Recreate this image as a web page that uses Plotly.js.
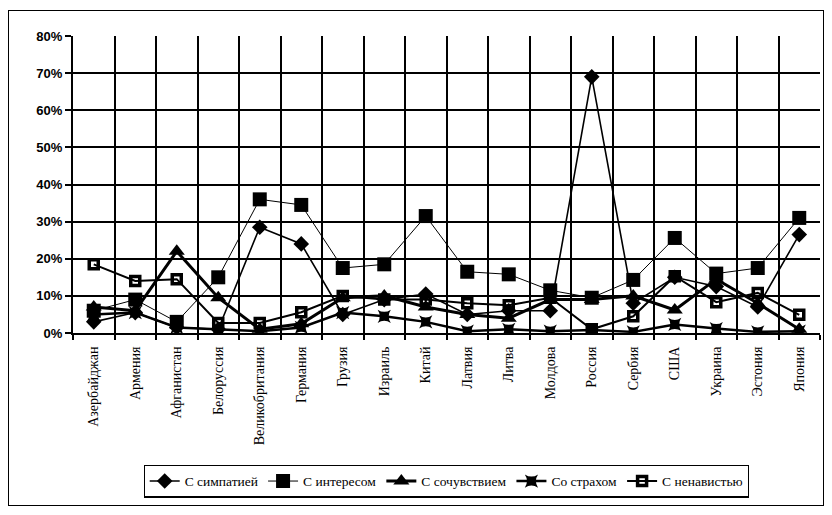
<!DOCTYPE html>
<html>
<head>
<meta charset="utf-8">
<script src="https://cdn.plot.ly/plotly-3.0.1.min.js"></script>
<style>
html,body{margin:0;padding:0;background:#fff;}
#wrap{position:relative;width:832px;height:515px;}
#chart{width:832px;height:515px;}
#frame{position:absolute;left:8px;top:10px;width:814px;height:494px;border:1.5px solid #000;pointer-events:none;}
</style>
</head>
<body>
<div id="wrap"><div id="chart"></div><div id="frame"></div></div>
<script>
const countries = ["Азербайджан","Армения","Афганистан","Белоруссия","Великобритания","Германия","Грузия","Израиль","Китай","Латвия","Литва","Молдова","Россия","Сербия","США","Украина","Эстония","Япония"];
const sympathy = [3, 5.5, 1.5, 1, 28.5, 24, 5, 9, 10.5, 5, 6, 6, 69, 8, 15, 12.5, 7, 26.5];
const interest = [6, 9, 3, 15, 36, 34.5, 17.5, 18.5, 31.5, 16.5, 15.8, 11.5, 9.5, 14.3, 25.6, 16, 17.5, 31];
const compassion = [7, 6, 22, 9.5, 1, 2.5, 9.5, 10, 7, 5, 4, 9, 9, 10, 6.2, 14.5, 8, 1];
const fear = [5, 5.5, 1.5, 1, 0.5, 1.5, 5.5, 4.5, 3, 0.5, 1, 0.5, 0.8, 0.3, 2.3, 1.2, 0.3, 0.5];
const hatred = [18.5, 14, 14.5, 2.7, 2.7, 5.6, 10, 9, 9, 8, 7.5, 9.5, 1, 4.5, 15.3, 8.3, 10.8, 4.9];
const seriesNames = ["С симпатией","С интересом","С сочувствием","Со страхом","С ненавистью"];
const yTicks = [0,10,20,30,40,50,60,70,80];

const idx = countries.map((c, i) => i);

const mk = (y, name, sym, size, lw) => ({
  x: idx, y: y, name: name, type: 'scatter', mode: 'lines+markers',
  text: countries, hoverinfo: 'text+y+name',
  line: {color: '#000', width: lw},
  marker: {symbol: sym, size: size, color: '#000', line: {color: '#000', width: 0}}
});

const data = [
  mk(sympathy, seriesNames[0], 'diamond', 12, 1.6),
  mk(interest, seriesNames[1], 'square', 14, 1),
  mk(compassion, seriesNames[2], 'triangle-up', 14, 3),
  mk(fear, seriesNames[3], 'star-square', 12, 2.5),
  {x: idx, y: hatred, name: seriesNames[4], type: 'scatter', mode: 'lines+markers',
   line: {color: '#000', width: 2},
   marker: {symbol: 'square-open', size: 9, color: '#000', line: {color: '#000', width: 3.5}}}
];

const layout = {
  width: 832, height: 515,
  margin: {l: 73, r: 12, t: 36, b: 182},
  paper_bgcolor: '#fff', plot_bgcolor: '#fff',
  showlegend: true,
  legend: {orientation: 'h', x: 0.5, xanchor: 'center', y: -0.443, yanchor: 'top',
    bordercolor: '#000', borderwidth: 1.2, bgcolor: '#fff',
    font: {family: 'Liberation Serif, serif', size: 13.5, color: '#000'},
    itemwidth: 30, tracegroupgap: 0},
  xaxis: {
    type: 'linear', range: [-0.5, countries.length - 0.5],
    tickmode: 'array', tickvals: idx, ticktext: countries,
    showgrid: false, ticks: '',
    tickangle: -90, tickfont: {family: 'Liberation Serif, serif', size: 14, color: '#000'},
    ticklabelstandoff: 6,
    showline: true, linecolor: '#000', linewidth: 2, mirror: false, zeroline: false,
    minor: {tick0: -0.5, dtick: 1, showgrid: true, gridcolor: '#000', gridwidth: 2,
            ticks: 'outside', ticklen: 5, tickcolor: '#000', tickwidth: 2}
  },
  yaxis: {
    range: [0, 80], tickvals: yTicks, ticktext: yTicks.map(v => v + '%'),
    showgrid: true, gridcolor: '#000', gridwidth: 2,
    ticks: 'outside', ticklen: 6, tickcolor: '#000', tickwidth: 2,
    tickfont: {family: 'Liberation Sans, Arial, sans-serif', size: 13, color: '#000', weight: 'bold'},
    showline: true, linecolor: '#000', linewidth: 2, zeroline: false
  }
};

Plotly.newPlot('chart', data, layout, {displayModeBar: false, staticPlot: true});
</script>
</body>
</html>
